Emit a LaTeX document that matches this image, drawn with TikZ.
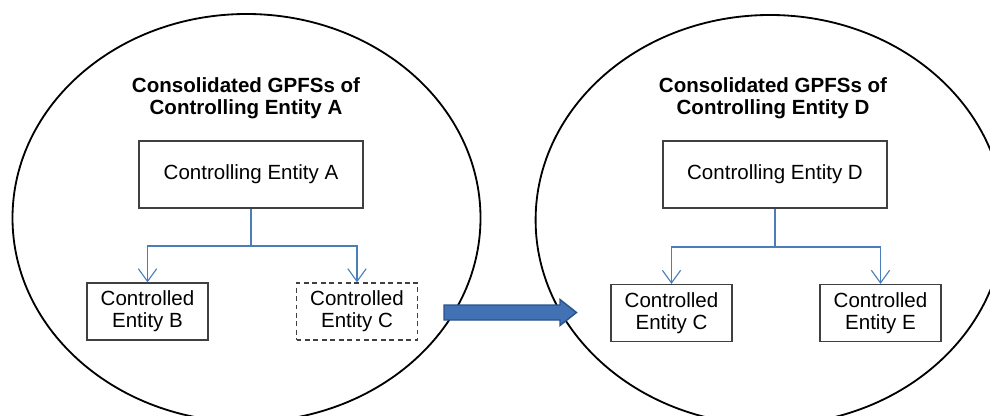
\documentclass[tikz,border=0pt]{standalone}
\usepackage{fontspec}
\setmainfont{Liberation Sans}
\usetikzlibrary{arrows.meta,calc,positioning}
\definecolor{linkblue}{RGB}{74,126,187}
\definecolor{boxgray}{RGB}{64,64,64}
\definecolor{arrowfill}{RGB}{66,114,180}
\definecolor{arrowedge}{RGB}{40,84,138}

\begin{document}
\begin{tikzpicture}[>={Straight Barb[length=9pt,width=13pt]},
  every node/.style={font=\fontsize{14.6}{15.4}\selectfont, align=center},
  entity/.style={draw=boxgray, line width=0.9pt, minimum width=5.6cm, minimum height=1.675cm},
  sub/.style={draw=boxgray, line width=0.9pt, minimum width=3.025cm, minimum height=1.425cm, inner sep=1pt},
  link/.style={draw=linkblue, line width=0.8pt}]
  \clip (0,0) rectangle (24.75,-10.4);

  % Group boundaries
  \draw[line width=1.3pt] (6.1625,-5.45) ellipse (5.85cm and 5.1cm);
  \draw[line width=1.3pt] (19.25,-5.5) ellipse (5.86cm and 5.125cm);

  % Titles
  \node (tA) at (6.15,-2.46) {\bfseries Consolidated GPFSs of\\\bfseries Controlling Entity A};
  \node (tD) at (19.325,-2.46) {\bfseries Consolidated GPFSs of\\\bfseries Controlling Entity D};

  % Left group
  \node[entity] (ceA) at (6.275,-4.3625) {Controlling Entity A};
  \node[sub] (ceB) at (3.6875,-7.7875) {Controlled\\Entity B};
  \node[sub, dashed, dash pattern=on 3.5pt off 2.5pt] (ceC) at (8.925,-7.7875) {Controlled\\Entity C};
  \coordinate (jA) at (6.275,-6.15);
  \draw[link] (ceA) -- (jA);
  \draw[link,->] (jA) -| (ceB);
  \draw[link,->] (jA) -| (ceC);

  % Right group
  \node[entity] (ceD) at (19.375,-4.3625) {Controlling Entity D};
  \node[sub] (ceC2) at (16.7875,-7.825) {Controlled\\Entity C};
  \node[sub] (ceE) at (22.0125,-7.825) {Controlled\\Entity E};
  \coordinate (jD) at (19.375,-6.175);
  \draw[link] (ceD) -- (jD);
  \draw[link,->] (jD) -| (ceC2);
  \draw[link,->] (jD) -| (ceE);

  % Transfer arrow
  \coordinate (mv) at (11.1,-7.8125);
  \filldraw[fill=arrowfill, draw=arrowedge, line width=1pt]
    (mv) ++(0,0.1875) -- ++(2.9,0) -- ++(0,0.1375) -- ++(0.4125,-0.325)
    -- ++(-0.4125,-0.325) -- ++(0,0.1375) -- ++(-2.9,0) -- cycle;
\end{tikzpicture}
\end{document}
